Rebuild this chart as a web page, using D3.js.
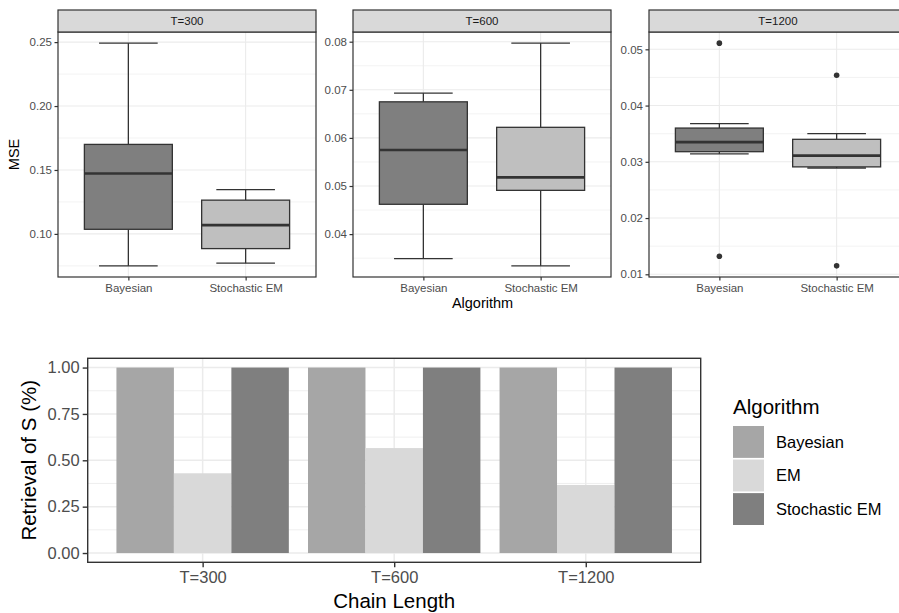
<!DOCTYPE html>
<html>
<head>
<meta charset="utf-8">
<script src="https://cdn.jsdelivr.net/npm/d3@7"></script>
<style>
  body { margin: 0; background: #fff; }
  text { font-family: "Liberation Sans", Arial, Helvetica, sans-serif; }
</style>
</head>
<body>
<div id="chart"></div>
<script>
// ---- data ----
var panels = ["T=300", "T=600", "T=1200"];
var algorithms = ["Bayesian", "Stochastic EM"];
// box stats per algorithm: [lower whisker, q1, median, q3, upper whisker]
var boxT300 = [[0.0750, 0.1036, 0.1472, 0.1700, 0.2492], [0.0771, 0.0885, 0.1069, 0.1264, 0.1347]];
var boxT600 = [[0.0349, 0.0462, 0.0575, 0.0675, 0.0693], [0.0334, 0.0491, 0.0518, 0.0622, 0.0797]];
var boxT1200 = [[0.0314, 0.0318, 0.0335, 0.0360, 0.0368], [0.0289, 0.0291, 0.0311, 0.0340, 0.0350]];
var outT300 = [[], []];
var outT600 = [[], []];
var outT1200 = [[0.0511, 0.0132], [0.0454, 0.0115]];

var chainLengths = ["T=300", "T=600", "T=1200"];
var barSeries = ["Bayesian", "EM", "Stochastic EM"];
var retrievalBayesian = [1.00, 1.00, 1.00];
var retrievalEM = [0.43, 0.566, 0.367];
var retrievalSEM = [1.00, 1.00, 1.00];
var barTicks = [0, 0.25, 0.5, 0.75, 1.0];

var boxColors = ["#7f7f7f", "#bfbfbf"];
var barColors = ["#a6a6a6", "#d9d9d9", "#7f7f7f"];

var width = 899, height = 613;
var svg = d3.select("#chart").append("svg")
    .attr("width", width)
    .attr("height", height);

var fmt = d3.format(".2f");

// ---- top: faceted boxplots ----
var boxData = [boxT300, boxT600, boxT1200];
var outData = [outT300, outT600, outT1200];
var panelLeft = [58, 353, 649];
var panelW = 258, panelTop = 32, panelBottom = 277, stripTop = 10;
var lw = 1.3;

panels.forEach(function(p, i){
    var g = svg.append("g").attr("transform", "translate(" + panelLeft[i] + ",0)");
    var vals = [];
    boxData[i].forEach(function(b){ vals = vals.concat(b); });
    outData[i].forEach(function(o){ vals = vals.concat(o); });
    var ext = d3.extent(vals);
    var pad = (ext[1] - ext[0]) * 0.05;

    var y = d3.scaleLinear().domain([ext[0] - pad, ext[1] + pad]).range([panelBottom, panelTop]);
    var x = d3.scalePoint().domain(algorithms).range([0, panelW]).padding(0.6);
    var step = x.step();

    var ticks = y.ticks(5);
    var tstep = ticks[1] - ticks[0];
    var minor = [];
    for (var k = -1; k < ticks.length; k++) {
        var m = ticks[0] + (k + 0.5) * tstep;
        if (m > y.domain()[0] && m < y.domain()[1]) minor.push(m);
    }

    g.append("rect").attr("x", 0).attr("y", panelTop).attr("width", panelW)
        .attr("height", panelBottom - panelTop).attr("fill", "#fff");

    g.selectAll(".minor").data(minor).enter().append("line")
        .attr("x1", 0).attr("x2", panelW)
        .attr("y1", function(d){ return y(d); }).attr("y2", function(d){ return y(d); })
        .attr("stroke", "#ebebeb").attr("stroke-width", 0.6);
    g.selectAll(".major").data(ticks).enter().append("line")
        .attr("x1", 0).attr("x2", panelW)
        .attr("y1", function(d){ return y(d); }).attr("y2", function(d){ return y(d); })
        .attr("stroke", "#ebebeb").attr("stroke-width", 1.1);
    g.selectAll(".vgrid").data(algorithms).enter().append("line")
        .attr("x1", function(d){ return x(d); }).attr("x2", function(d){ return x(d); })
        .attr("y1", panelTop).attr("y2", panelBottom)
        .attr("stroke", "#ebebeb").attr("stroke-width", 1.1);

    // boxes
    algorithms.forEach(function(a, j){
        var b = boxData[i][j];
        var cx = x(a);
        var bw = 0.75 * step, cw = 0.5 * step;
        var bg = g.append("g");
        bg.append("line").attr("x1", cx).attr("x2", cx).attr("y1", y(b[4])).attr("y2", y(b[3]))
            .attr("stroke", "#333").attr("stroke-width", lw);
        bg.append("line").attr("x1", cx).attr("x2", cx).attr("y1", y(b[1])).attr("y2", y(b[0]))
            .attr("stroke", "#333").attr("stroke-width", lw);
        bg.append("line").attr("x1", cx - cw / 2).attr("x2", cx + cw / 2).attr("y1", y(b[4])).attr("y2", y(b[4]))
            .attr("stroke", "#333").attr("stroke-width", lw);
        bg.append("line").attr("x1", cx - cw / 2).attr("x2", cx + cw / 2).attr("y1", y(b[0])).attr("y2", y(b[0]))
            .attr("stroke", "#333").attr("stroke-width", lw);
        bg.append("rect").attr("x", cx - bw / 2).attr("width", bw)
            .attr("y", y(b[3])).attr("height", y(b[1]) - y(b[3]))
            .attr("fill", boxColors[j]).attr("stroke", "#333").attr("stroke-width", lw);
        bg.append("line").attr("x1", cx - bw / 2).attr("x2", cx + bw / 2).attr("y1", y(b[2])).attr("y2", y(b[2]))
            .attr("stroke", "#333").attr("stroke-width", 2.6);
        bg.selectAll("circle").data(outData[i][j]).enter().append("circle")
            .attr("cx", cx).attr("cy", function(d){ return y(d); }).attr("r", 2.8)
            .attr("fill", "#333");
    });

    g.append("rect").attr("x", 0).attr("y", panelTop).attr("width", panelW)
        .attr("height", panelBottom - panelTop).attr("fill", "none")
        .attr("stroke", "#333").attr("stroke-width", 1.2);

    // strip
    g.append("rect").attr("x", 0).attr("y", stripTop).attr("width", panelW)
        .attr("height", panelTop - stripTop).attr("fill", "#d9d9d9")
        .attr("stroke", "#333").attr("stroke-width", 1.2);
    g.append("text").attr("x", panelW / 2).attr("y", (stripTop + panelTop) / 2)
        .attr("dy", "0.35em").attr("text-anchor", "middle")
        .attr("font-size", "11.5px").attr("fill", "#1a1a1a").text(p);

    // axes
    var ya = g.append("g").call(d3.axisLeft(y).tickValues(ticks).tickFormat(fmt).tickSize(3.5).tickPadding(2.5));
    ya.select(".domain").remove();
    ya.selectAll("line").attr("stroke", "#333").attr("stroke-width", 1.2);
    ya.selectAll("text").attr("font-size", "11.5px").attr("fill", "#4d4d4d")
        .style("font-family", "Liberation Sans, Arial, sans-serif");

    var xa = g.append("g").attr("transform", "translate(0," + panelBottom + ")")
        .call(d3.axisBottom(x).tickSize(3.5).tickPadding(3));
    xa.select(".domain").remove();
    xa.selectAll("line").attr("stroke", "#333").attr("stroke-width", 1.2);
    xa.selectAll("text").attr("font-size", "11.5px").attr("fill", "#4d4d4d")
        .style("font-family", "Liberation Sans, Arial, sans-serif");
});

svg.append("text").attr("transform", "translate(19," + ((panelTop + panelBottom) / 2) + ") rotate(-90)")
    .attr("text-anchor", "middle").attr("font-size", "14.5px").attr("fill", "#000").text("MSE");
svg.append("text").attr("x", (panelLeft[0] + panelLeft[2] + panelW) / 2).attr("y", 308)
    .attr("text-anchor", "middle").attr("font-size", "14.5px").attr("fill", "#000").text("Algorithm");

// ---- bottom: grouped bars ----
var bLeft = 87.7, bRight = 700.7, bTop = 358.3, bBottom = 562.3;
var barValues = [retrievalBayesian, retrievalEM, retrievalSEM];

var by = d3.scaleLinear().domain([-0.05, 1.05]).range([bBottom, bTop]);
var bx = d3.scalePoint().domain(chainLengths).range([bLeft, bRight]).padding(0.6);
var bstep = bx.step();
var inner = d3.scaleBand().domain(barSeries).range([-0.45 * bstep, 0.45 * bstep]);

var bg2 = svg.append("g");
bg2.append("rect").attr("x", bLeft).attr("y", bTop).attr("width", bRight - bLeft)
    .attr("height", bBottom - bTop).attr("fill", "#fff");

var bMinor = [0.125, 0.375, 0.625, 0.875];
bg2.selectAll(".bminor").data(bMinor).enter().append("line")
    .attr("x1", bLeft).attr("x2", bRight)
    .attr("y1", function(d){ return by(d); }).attr("y2", function(d){ return by(d); })
    .attr("stroke", "#ebebeb").attr("stroke-width", 0.8);
bg2.selectAll(".bmajor").data(barTicks).enter().append("line")
    .attr("x1", bLeft).attr("x2", bRight)
    .attr("y1", function(d){ return by(d); }).attr("y2", function(d){ return by(d); })
    .attr("stroke", "#ebebeb").attr("stroke-width", 1.5);
bg2.selectAll(".bvgrid").data(chainLengths).enter().append("line")
    .attr("x1", function(d){ return bx(d); }).attr("x2", function(d){ return bx(d); })
    .attr("y1", bTop).attr("y2", bBottom)
    .attr("stroke", "#ebebeb").attr("stroke-width", 1.5);

barSeries.forEach(function(s, j){
    bg2.selectAll(".bar" + j).data(chainLengths).enter().append("rect")
        .attr("x", function(d){ return bx(d) + inner(s); })
        .attr("width", inner.bandwidth())
        .attr("y", function(d, i){ return by(barValues[j][i]); })
        .attr("height", function(d, i){ return by(0) - by(barValues[j][i]); })
        .attr("fill", barColors[j]);
});

bg2.append("rect").attr("x", bLeft).attr("y", bTop).attr("width", bRight - bLeft)
    .attr("height", bBottom - bTop).attr("fill", "none")
    .attr("stroke", "#333").attr("stroke-width", 1.4);

var bya = bg2.append("g").attr("transform", "translate(" + bLeft + ",0)")
    .call(d3.axisLeft(by).tickValues(barTicks).tickFormat(fmt).tickSize(5).tickPadding(3));
bya.select(".domain").remove();
bya.selectAll("line").attr("stroke", "#333").attr("stroke-width", 1.4);
bya.selectAll("text").attr("font-size", "16.5px").attr("fill", "#4d4d4d")
    .style("font-family", "Liberation Sans, Arial, sans-serif");

var bxa = bg2.append("g").attr("transform", "translate(0," + bBottom + ")")
    .call(d3.axisBottom(bx).tickSize(5).tickPadding(3.5));
bxa.select(".domain").remove();
bxa.selectAll("line").attr("stroke", "#333").attr("stroke-width", 1.4);
bxa.selectAll("text").attr("font-size", "16.5px").attr("fill", "#4d4d4d")
    .style("font-family", "Liberation Sans, Arial, sans-serif");

svg.append("text").attr("transform", "translate(36," + ((bTop + bBottom) / 2) + ") rotate(-90)")
    .attr("text-anchor", "middle").attr("font-size", "20.5px").attr("fill", "#000").text("Retrieval of S (%)");
svg.append("text").attr("x", (bLeft + bRight) / 2).attr("y", 608)
    .attr("text-anchor", "middle").attr("font-size", "20.5px").attr("fill", "#000").text("Chain Length");

// legend
var lg = svg.append("g").attr("transform", "translate(733,0)");
lg.append("text").attr("x", 0).attr("y", 414).attr("font-size", "20.5px").attr("fill", "#000").text("Algorithm");
var keyY = d3.scaleBand().domain(barSeries).range([426, 525]).paddingInner(0.05);
barSeries.forEach(function(s, j){
    lg.append("rect").attr("x", 0).attr("y", keyY(s)).attr("width", 31).attr("height", keyY.bandwidth())
        .attr("fill", barColors[j]);
    lg.append("text").attr("x", 43).attr("y", keyY(s) + keyY.bandwidth() / 2).attr("dy", "0.35em")
        .attr("font-size", "16.5px").attr("fill", "#000").text(s);
});
</script>
</body>
</html>
